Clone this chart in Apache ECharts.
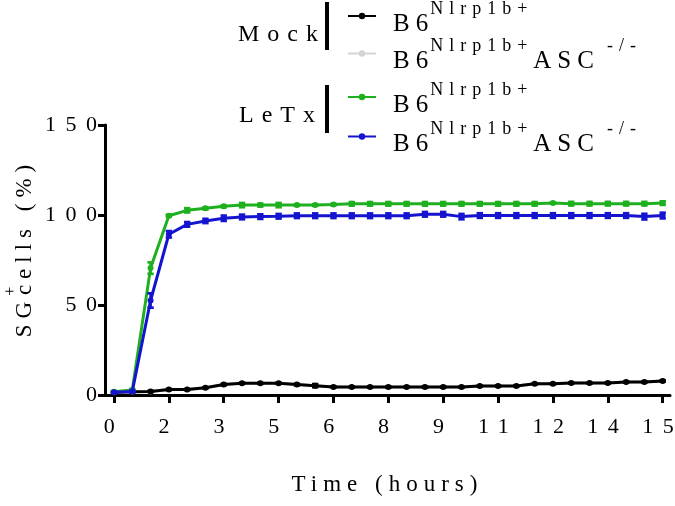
<!DOCTYPE html>
<html><head><meta charset="utf-8">
<script src="https://cdn.jsdelivr.net/npm/echarts@6/dist/echarts.min.js"></script>
<style>
html,body{margin:0;padding:0;background:#fff;}
#c{width:675px;height:506px;}
</style></head>
<body><div id="c"></div>
<script>
// ---- data ----
const times = [0,0.5,1,1.5,2,2.5,3,3.5,4,4.5,5,5.5,6,6.5,7,7.5,8,8.5,9,9.5,10,10.5,11,11.5,12,12.5,13,13.5,14,14.5,15];
const mockB6 = [1.5,1.8,2.0,3.0,3.0,4.0,5.8,6.5,6.5,6.5,5.8,5.2,4.5,4.4,4.4,4.4,4.4,4.4,4.4,4.4,5.0,5.0,5.0,6.2,6.2,6.6,6.6,6.6,7.2,7.2,7.8];
const mockB6Err = [0.3,0.3,0.3,0.3,0.3,0.3,0.4,0.3,0.3,0.3,0.4,0.9,0.3,0.3,0.3,0.3,0.3,0.3,0.3,0.3,0.3,0.3,0.3,0.3,0.3,0.3,0.3,0.3,0.3,0.3,0.4];
const mockASC = [1.5,1.8,2.0,3.0,3.0,4.0,5.8,6.5,6.5,6.5,5.8,5.2,4.5,4.4,4.4,4.4,4.4,4.4,4.4,4.4,5.0,5.0,5.0,6.2,6.2,6.6,6.6,6.6,7.2,7.2,7.8];
const letxB6 = [1.8,2.8,70.5,99.6,102.6,103.7,104.8,105.5,105.5,105.5,105.5,105.5,105.8,106.2,106.2,106.2,106.2,106.2,106.2,106.2,106.2,106.2,106.2,106.2,106.6,106.3,106.3,106.3,106.3,106.3,106.6];
const letxB6Err = [0.4,0.5,3.2,0.5,1.2,0.6,0.5,1.2,0.8,1.2,0.4,0.4,0.4,1.0,1.0,1.0,1.0,1.0,1.0,1.0,1.0,1.0,1.0,1.0,0.3,1.0,1.0,1.0,1.0,1.0,1.0];
const letxASC = [1.5,2.0,52.5,89.3,94.8,96.7,98.2,98.9,99.1,99.3,99.6,99.6,99.6,99.6,99.6,99.6,99.6,100.4,100.4,99.1,99.7,99.7,99.7,99.7,99.7,99.7,99.7,99.7,99.7,99.1,99.7];
const letxASCErr = [0.4,0.5,4.0,1.8,1.3,1.2,1.5,1.3,1.3,1.3,1.3,1.3,1.3,1.3,1.3,1.3,1.3,1.3,1.3,1.5,1.3,1.3,1.3,1.3,1.3,1.3,1.3,1.3,1.3,1.6,1.6];
const xTickValues = [0,1.5,3,4.5,6,7.5,9,10.5,12,13.5,15];
const xTickLabels = ['0','2','3','5','6','8','9','11','12','14','15'];
const seriesNames = ['Mock B6Nlrp1b+','Mock B6Nlrp1b+ASC-/-','LeTx B6Nlrp1b+','LeTx B6Nlrp1b+ASC-/-'];
const legendLabels = ['{b|B6}{s|Nlrp1b+}','{b|B6}{s|Nlrp1b+}{a|ASC}{t|-/-}','{b|B6}{s|Nlrp1b+}','{b|B6}{s|Nlrp1b+}{a|ASC}{t|-/-}'];
const groupLabels = ['Mock','LeTx'];
const colors = ['#000000','#d4d4d4','#1fb01f','#1414d0'];

// Prism-style wide letter spacing, applied per font size when text is painted
const SPACING = {22:9.5, 23:6, 24:8, 25:6, 18:6};
(function(){
  const proto = CanvasRenderingContext2D.prototype;
  if (!('letterSpacing' in proto)) return;
  const orig = proto.fillText;
  proto.fillText = function(t, x, y, m){
    const mt = /(\d+(?:\.\d+)?)px/.exec(this.font || '');
    const sp = mt ? (SPACING[Math.round(parseFloat(mt[1]))] || 0) : 0;
    const prev = this.letterSpacing;
    this.letterSpacing = sp + 'px';
    if (m === undefined) orig.call(this, t, x, y); else orig.call(this, t, x, y, m);
    this.letterSpacing = prev;
  };
})();

const FF = 'Liberation Serif';
const pairs = (vals) => times.map((t,i)=>[t, vals[i]]);
const triples = (vals, errs) => times.map((t,i)=>[t, vals[i], errs[i]]);

function lineSeries(idx, vals, z){
  return {type:'line', name: seriesNames[idx], data: pairs(vals), symbol:'circle', symbolSize:6,
    showAllSymbol:true, lineStyle:{width:3, color:colors[idx]}, itemStyle:{color:colors[idx]},
    z:z, emphasis:{disabled:true}, animation:false};
}
function errSeries(idx, vals, errs, z){
  const c = colors[idx];
  return {type:'custom', name: seriesNames[idx] + ' err', data: triples(vals, errs), z:z, animation:false,
    renderItem: function(params, api){
      const x = api.value(0), y = api.value(1), e = api.value(2);
      const a = api.coord([x, y + e]), b = api.coord([x, y - e]);
      const hw = 3.2, st = {stroke:c, lineWidth:2.6};
      return {type:'group', children:[
        {type:'line', shape:{x1:a[0],y1:a[1],x2:b[0],y2:b[1]}, style:st},
        {type:'line', shape:{x1:a[0]-hw,y1:a[1],x2:a[0]+hw,y2:a[1]}, style:st},
        {type:'line', shape:{x1:b[0]-hw,y1:b[1],x2:b[0]+hw,y2:b[1]}, style:st}
      ]};
    }};
}

const rich = {
  b:{fontSize:25, fontFamily:FF, color:'#000', height:16, padding:[16,0,0,12], verticalAlign:'top'},
  s:{fontSize:18, fontFamily:FF, color:'#000', height:18, padding:[0,0,0,8], verticalAlign:'top'},
  a:{fontSize:25, fontFamily:FF, color:'#000', height:16, padding:[16,0,0,42], verticalAlign:'top'},
  t:{fontSize:18, fontFamily:FF, color:'#000', height:18, padding:[0,0,0,25], verticalAlign:'top'}
};
const legendFormatter = (name) => legendLabels[seriesNames.indexOf(name)];

const chart = echarts.init(document.getElementById('c'), null, {renderer:'canvas', width:675, height:506});
chart.setOption({
  animation:false,
  backgroundColor:'#fff',
  textStyle:{fontFamily:FF},
  grid:{left:105, right:5, top:125, bottom:111, containLabel:false, outerBoundsMode:'none'},
  xAxis:{type:'value', min:-0.246, max:15.2,
    axisLine:{show:true, onZero:false, lineStyle:{color:'#000', width:3}},
    axisTick:{show:true, customValues:xTickValues, length:8, lineStyle:{color:'#000', width:3}},
    axisLabel:{customValues:xTickValues, margin:21, fontSize:22, fontFamily:FF, color:'#000',
      formatter:(v)=>{ for(let i=0;i<xTickValues.length;i++){ if(Math.abs(xTickValues[i]-v)<1e-6) return xTickLabels[i]; } return ''; }},
    splitLine:{show:false},
    name:'Time (hours)', nameLocation:'middle', nameGap:78,
    nameTextStyle:{fontSize:23, fontFamily:FF, color:'#000'}
  },
  yAxis:{type:'value', min:0, max:150, interval:50,
    axisLine:{show:true, onZero:false, lineStyle:{color:'#000', width:3}},
    axisTick:{show:true, length:7, lineStyle:{color:'#000', width:3}},
    axisLabel:{margin:-1.5, fontSize:22, fontFamily:FF, color:'#000'},
    splitLine:{show:false},
    name:'{m|SG}{p|+}{n| cells (%)}', nameLocation:'middle', nameGap:72,
    nameTextStyle:{color:'#000', fontFamily:FF, rich:{
      m:{fontSize:23, fontFamily:FF, color:'#000', height:16, padding:[14,0,0,0], verticalAlign:'top'},
      p:{fontSize:16, fontFamily:FF, color:'#000', height:16, padding:[0,0,0,6], verticalAlign:'top'},
      n:{fontSize:23, fontFamily:FF, color:'#000', height:16, padding:[14,0,0,10], verticalAlign:'top'}
    }}
  },
  legend:[
    {data:[seriesNames[0], seriesNames[1]], orient:'vertical', left:347, top:0, padding:0, itemGap:1,
     itemWidth:28, itemHeight:8, formatter:legendFormatter, textStyle:{color:'#000', fontFamily:FF, rich:rich}, selectedMode:false},
    {data:[seriesNames[2], seriesNames[3]], orient:'vertical', left:347, top:81, padding:0, itemGap:3,
     itemWidth:28, itemHeight:8, formatter:legendFormatter, textStyle:{color:'#000', fontFamily:FF, rich:rich}, selectedMode:false}
  ],
  graphic:[
    {type:'text', style:{text:groupLabels[0], x:326, y:35, fontSize:24, fontFamily:FF, fill:'#000', align:'right', verticalAlign:'middle'}},
    {type:'rect', shape:{x:325, y:2, width:4, height:48}, style:{fill:'#000'}},
    {type:'text', style:{text:groupLabels[1], x:323, y:116, fontSize:24, fontFamily:FF, fill:'#000', align:'right', verticalAlign:'middle'}},
    {type:'rect', shape:{x:325, y:85, width:4, height:48}, style:{fill:'#000'}}
  ],
  series:[
    lineSeries(1, mockASC, 2),
    lineSeries(0, mockB6, 3),
    errSeries(0, mockB6, mockB6Err, 4),
    lineSeries(2, letxB6, 5),
    errSeries(2, letxB6, letxB6Err, 6),
    lineSeries(3, letxASC, 7),
    errSeries(3, letxASC, letxASCErr, 8)
  ]
});
</script>
</body></html>
